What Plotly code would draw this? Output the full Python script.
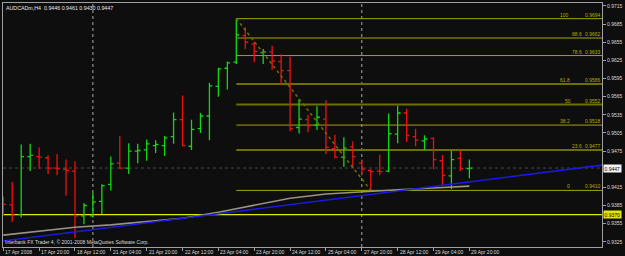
import plotly.graph_objects as go

# ---- data (H4 bars, index = bar number) ----
bar_idx = list(range(53))
opens = [0.9394, 0.9386, 0.9370, 0.9466, 0.9466, 0.9464, 0.9447, 0.9445, 0.9442, 0.9368,
         0.9368, 0.9392, 0.9420, 0.9455, 0.9447, 0.9475, 0.9477, 0.9484, 0.9484, 0.9499,
         0.9527, 0.9483, 0.9512, 0.9533, 0.9582, 0.9612, 0.9622, 0.9666, 0.9652, 0.9638,
         0.9639, 0.9623, 0.9608, 0.9514, 0.9527, 0.9518, 0.9528, 0.9479, 0.9465, 0.9482,
         0.9455, 0.9443, 0.9442, 0.9442, 0.9503, 0.9538, 0.9499, 0.9492, 0.9496, 0.9459,
         0.9434, 0.9463, 0.9446]
highs = [0.9400, 0.9424, 0.9486, 0.9487, 0.9481, 0.9468, 0.9470, 0.9461, 0.9458, 0.9389,
         0.9406, 0.9420, 0.9466, 0.9500, 0.9488, 0.9487, 0.9494, 0.9493, 0.9500, 0.9539,
         0.9567, 0.9527, 0.9538, 0.9588, 0.9613, 0.9623, 0.9694, 0.9680, 0.9656, 0.9644,
         0.9649, 0.9635, 0.9631, 0.9561, 0.9535, 0.9549, 0.9559, 0.9502, 0.9498, 0.9491,
         0.9461, 0.9445, 0.9469, 0.9537, 0.9550, 0.9545, 0.9512, 0.9501, 0.9498, 0.9468,
         0.9475, 0.9476, 0.9461]
lows = [0.9368, 0.9358, 0.9365, 0.9442, 0.9446, 0.9437, 0.9435, 0.9401, 0.9331, 0.9354,
        0.9365, 0.9371, 0.9410, 0.9446, 0.9437, 0.9455, 0.9459, 0.9472, 0.9467, 0.9487,
        0.9483, 0.9477, 0.9505, 0.9493, 0.9565, 0.9577, 0.9619, 0.9644, 0.9622, 0.9619,
        0.9609, 0.9584, 0.9508, 0.9504, 0.9506, 0.9510, 0.9470, 0.9463, 0.9449, 0.9447,
        0.9435, 0.9410, 0.9435, 0.9440, 0.9488, 0.9490, 0.9483, 0.9477, 0.9445, 0.9419,
        0.9412, 0.9442, 0.9430]
closes = [0.9387, 0.9369, 0.9466, 0.9468, 0.9465, 0.9447, 0.9446, 0.9443, 0.9368, 0.9385,
          0.9391, 0.9418, 0.9454, 0.9447, 0.9475, 0.9476, 0.9487, 0.9486, 0.9497, 0.9527,
          0.9484, 0.9511, 0.9533, 0.9583, 0.9611, 0.9621, 0.9667, 0.9655, 0.9640, 0.9639,
          0.9624, 0.9608, 0.9512, 0.9528, 0.9517, 0.9531, 0.9481, 0.9465, 0.9480, 0.9466,
          0.9445, 0.9441, 0.9441, 0.9504, 0.9538, 0.9501, 0.9493, 0.9495, 0.9461, 0.9435,
          0.9461, 0.9446, 0.9447]

# moving average read every 4 bars
ma_idx = [0, 4, 8, 12, 16, 20, 24, 28, 32, 36, 40, 44, 48, 52]
ma_val = [0.9336, 0.9342, 0.9349, 0.9353, 0.9359, 0.9364, 0.9374, 0.9386, 0.9397,
          0.9404, 0.9408, 0.9411, 0.9414, 0.9417]

# blue trend line (two anchor points)
trend_idx = [-0.2, 66.9]
trend_val = [0.9326, 0.9452]

# fibonacci retracement
fib_pct = ["100", "88.6", "78.6", "61.8", "50", "38.2", "23.6", "0"]
fib_val = [0.9694, 0.9662, 0.9633, 0.9586, 0.9552, 0.9518, 0.9477, 0.9410]
fib_from, fib_to = 26, 41  # swing high bar -> swing low bar

hline_level = 0.9370
hline_label = "0.9370"
last_price = 0.9447
separators = [10, 40]

x_tick_idx = [0, 4, 8, 12, 16, 20, 24, 28, 32, 36, 40, 44, 48, 52]
x_tick_txt = ["17 Apr 2008", "17 Apr 20:00", "18 Apr 12:00", "21 Apr 04:00",
              "21 Apr 20:00", "22 Apr 12:00", "23 Apr 04:00", "23 Apr 20:00",
              "24 Apr 12:00", "25 Apr 04:00", "27 Apr 20:00", "28 Apr 12:00",
              "29 Apr 04:00", "29 Apr 20:00"]
y_ticks = [0.9715, 0.9685, 0.9655, 0.9625, 0.9595, 0.9565, 0.9535, 0.9505, 0.9475,
           0.9415, 0.9385, 0.9355, 0.9325]

header = "AUDCADm,H4  0.9446 0.9461 0.9430 0.9447"
watermark = "Interbank FX Trader 4, \u00a9 2001-2008 MetaQuotes Software Corp."

# ---- styling ----
BG = "#0e0e0e"
FONT = "Liberation Sans"
XR = [-0.03, 66.8]
YR = [0.93164, 0.97199]

fig = go.Figure()

# vertical period separators
for s in separators:
    fig.add_shape(type="line", xref="x", yref="paper", x0=s, x1=s, y0=0, y1=1,
                  line=dict(color="#a8a8a8", width=1, dash="dot"), layer="below")

# bid line
fig.add_shape(type="line", xref="paper", yref="y", x0=0, x1=1, y0=last_price, y1=last_price,
              line=dict(color="#4a4a4a", width=1, dash="dot"), layer="below")

# yellow horizontal line
fig.add_shape(type="line", xref="paper", yref="y", x0=0, x1=1, y0=hline_level, y1=hline_level,
              line=dict(color="#e6e600", width=1.4), layer="below")

# fib levels
thick = {"61.8", "50", "23.6"}
pct_right = {"100": -32, "88.6": -19, "78.6": -19, "61.8": -31, "50": -30,
             "38.2": -31, "23.6": -19, "0": -31}
for p, v in zip(fib_pct, fib_val):
    if p in thick:
        ln = dict(color="#6f6f00", width=2)
    else:
        ln = dict(color="#a5a500", width=1)
    fig.add_shape(type="line", xref="x", yref="y", x0=fib_from, x1=XR[1], y0=v, y1=v,
                  line=ln, layer="below")
    fig.add_annotation(x=1, xref="paper", y=v, yref="y", text=p, showarrow=False,
                       xanchor="right", yanchor="bottom", xshift=pct_right[p], yshift=0,
                       borderpad=0, font=dict(family=FONT, size=5, color="#b0b000"))
    fig.add_annotation(x=1, xref="paper", y=v, yref="y", text=f"{v:.4f}", showarrow=False,
                       xanchor="right", yanchor="bottom", xshift=0, yshift=0,
                       borderpad=0, font=dict(family=FONT, size=5, color="#b0b000"))

# fib trend (dotted diagonal)
fig.add_trace(go.Scatter(x=[fib_from, fib_to], y=[fib_val[0], fib_val[-1]], mode="lines",
                         line=dict(color="#6f6f00", width=1.5, dash="dot"),
                         hoverinfo="skip", showlegend=False))

# moving average
fig.add_trace(go.Scatter(x=ma_idx, y=ma_val, mode="lines",
                         line=dict(color="#9a9282", width=1.6),
                         hoverinfo="skip", showlegend=False))

# blue trend line
fig.add_trace(go.Scatter(x=trend_idx, y=trend_val, mode="lines",
                         line=dict(color="#1a1ae6", width=1.6),
                         hoverinfo="skip", showlegend=False))

# OHLC bars
fig.add_trace(go.Ohlc(x=bar_idx, open=opens, high=highs, low=lows, close=closes,
                      increasing=dict(line=dict(color="#12d812", width=1.3)),
                      decreasing=dict(line=dict(color="#ee1010", width=1.3)),
                      tickwidth=0.32, showlegend=False, hoverinfo="skip"))

# x labels (left aligned at tick)
for k, t in zip(x_tick_idx, x_tick_txt):
    fig.add_annotation(x=k, xref="x", y=0, yref="paper", text=t, showarrow=False,
                       xanchor="left", yanchor="top", xshift=1, yshift=-1, borderpad=0,
                       font=dict(family=FONT, size=5, color="#d8d8d8"))

# price boxes on the axis
fig.add_annotation(x=1, xref="paper", y=last_price, yref="y", text=f"{last_price:.4f}",
                   showarrow=False, xanchor="left", xshift=1, bgcolor="#f4f4f4",
                   borderpad=0.5, font=dict(family=FONT, size=5, color="#000000"))
fig.add_annotation(x=1, xref="paper", y=hline_level, yref="y", text=hline_label,
                   showarrow=False, xanchor="left", xshift=1, bgcolor="#e6e600",
                   borderpad=0.5, font=dict(family=FONT, size=5, color="#000000"))

# header & watermark
fig.add_annotation(x=0, xref="paper", y=1, yref="paper", text=header, showarrow=False,
                   xanchor="left", yanchor="top", xshift=2, yshift=-1, borderpad=0,
                   font=dict(family=FONT, size=5.3, color="#e8e8e8"))
fig.add_annotation(x=0, xref="paper", y=0, yref="paper", text=watermark, showarrow=False,
                   xanchor="left", yanchor="bottom", xshift=1, yshift=1, borderpad=0,
                   font=dict(family=FONT, size=5, color="#dcdcdc"))

fig.update_layout(
    width=625, height=256,
    margin=dict(l=2, r=22, t=2, b=9),
    paper_bgcolor=BG, plot_bgcolor=BG,
    showlegend=False,
    xaxis=dict(range=XR, showgrid=False, zeroline=False, rangeslider=dict(visible=False),
               tickmode="array", tickvals=x_tick_idx, showticklabels=False,
               ticks="outside", ticklen=3, tickcolor="#a0a0a0",
               showline=True, linecolor="#a0a0a0", linewidth=1, mirror=True),
    yaxis=dict(range=YR, side="right", showgrid=False, zeroline=False,
               tickmode="array", tickvals=y_ticks, ticktext=[f"{v:.4f}" for v in y_ticks],
               ticks="outside", ticklen=3, tickcolor="#a0a0a0",
               tickfont=dict(family=FONT, size=5, color="#d8d8d8"),
               showline=True, linecolor="#a0a0a0", linewidth=1, mirror=True),
)

fig.write_html("out.html")
